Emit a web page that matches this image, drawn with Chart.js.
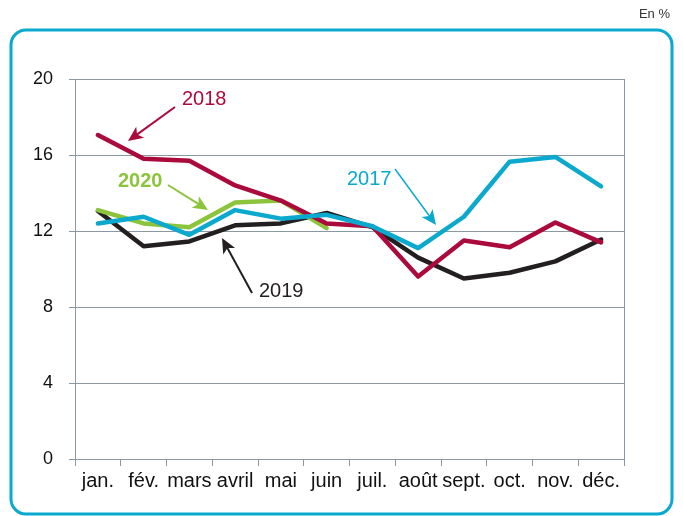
<!DOCTYPE html>
<html>
<head>
<meta charset="utf-8">
<script src="https://cdn.jsdelivr.net/npm/chart.js@4/dist/chart.umd.min.js"></script>
<style>
  html, body { margin: 0; padding: 0; background: #fff; }
  #wrap { width: 683px; height: 516px; position: relative; }
</style>
</head>
<body>
<div id="wrap"><canvas id="c" width="683" height="516"></canvas></div>
<script>
const months = ["jan.", "fév.", "mars", "avril", "mai", "juin", "juil.", "août", "sept.", "oct.", "nov.", "déc."];
const yTicks = [0, 4, 8, 12, 16, 20];

const s2017 = [12.4, 12.75, 11.8, 13.1, 12.65, 12.85, 12.25, 11.1, 12.75, 15.65, 15.9, 14.35];
const s2018 = [17.05, 15.8, 15.7, 14.4, 13.6, 12.4, 12.25, 9.6, 11.5, 11.15, 12.45, 11.4];
const s2019 = [13.05, 11.2, 11.45, 12.3, 12.4, 12.95, 12.2, 10.6, 9.5, 9.8, 10.4, 11.55];
const s2020 = [13.1, 12.4, 12.2, 13.5, 13.6, 12.15];

const C17 = "#0aa9cd", C18 = "#aa0a3c", C19 = "#231f20", C20 = "#8cc43c";
const GRID = "#8a98a3";
const FONT = "'Liberation Sans', Arial, sans-serif";

function arrow(ctx, x1, y1, x2, y2, color, lw, head) {
  const a = Math.atan2(y2 - y1, x2 - x1);
  const hl = head, hw = head * 0.45;
  const bx = x2 - hl * Math.cos(a), by = y2 - hl * Math.sin(a);
  ctx.strokeStyle = color; ctx.fillStyle = color; ctx.lineWidth = lw;
  ctx.beginPath(); ctx.moveTo(x1, y1); ctx.lineTo(bx + 0.3 * hl * Math.cos(a), by + 0.3 * hl * Math.sin(a)); ctx.stroke();
  ctx.beginPath();
  ctx.moveTo(x2, y2);
  ctx.lineTo(bx - hw * Math.sin(a), by + hw * Math.cos(a));
  ctx.lineTo(bx + 0.25 * hl * Math.cos(a), by + 0.25 * hl * Math.sin(a));
  ctx.lineTo(bx + hw * Math.sin(a), by - hw * Math.cos(a));
  ctx.closePath(); ctx.fill();
}

const decor = {
  id: "decor",
  beforeDraw(chart) {
    const ctx = chart.ctx;
    ctx.save();
    ctx.strokeStyle = C17; ctx.lineWidth = 3;
    ctx.beginPath(); ctx.roundRect(11, 30, 661, 484, 15); ctx.stroke();
    ctx.fillStyle = "#333"; ctx.font = "13px " + FONT;
    ctx.textAlign = "right"; ctx.textBaseline = "middle";
    ctx.fillText("En %", 670, 14);
    ctx.restore();
  },
  afterDraw(chart) {
    const ctx = chart.ctx, a = chart.chartArea;
    ctx.save();
    ctx.strokeStyle = GRID; ctx.lineWidth = 1;
    ctx.beginPath(); ctx.moveTo(a.right + 0.5, a.top); ctx.lineTo(a.right + 0.5, a.bottom); ctx.stroke();
    ctx.font = "20px " + FONT; ctx.textBaseline = "middle"; ctx.textAlign = "left";
    ctx.fillStyle = C18; ctx.fillText("2018", 182, 99);
    arrow(ctx, 175, 107, 128, 141, C18, 2, 15);
    ctx.font = "bold 20px " + FONT;
    ctx.fillStyle = C20; ctx.fillText("2020", 118, 181);
    arrow(ctx, 168, 185, 208, 210, C20, 2, 15);
    ctx.font = "20px " + FONT;
    ctx.fillStyle = C19; ctx.fillText("2019", 259, 291);
    arrow(ctx, 252, 293, 222, 238, C19, 2, 15);
    ctx.fillStyle = C17; ctx.fillText("2017", 347, 179);
    arrow(ctx, 395, 169, 436, 225, C17, 1.5, 15);
    ctx.restore();
  }
};

function ds(label, data, color) {
  return {
    label, data, borderColor: color, backgroundColor: color,
    borderWidth: 4.5, pointRadius: 0, tension: 0,
    borderJoinStyle: "round", borderCapStyle: "round"
  };
}

new Chart(document.getElementById("c"), {
  type: "line",
  data: {
    labels: months,
    datasets: [
      ds("2017", s2017, C17),
      ds("2018", s2018, C18),
      ds("2020", s2020, C20),
      ds("2019", s2019, C19)
    ]
  },
  options: {
    responsive: false,
    animation: false,
    devicePixelRatio: 1,
    layout: { padding: { left: 0, top: 79, right: 59, bottom: 0 } },
    plugins: { legend: { display: false }, tooltip: { enabled: false } },
    scales: {
      x: {
        offset: true,
        grid: { offset: true, drawOnChartArea: false, drawTicks: true, tickLength: 7, color: GRID },
        border: { display: true, color: GRID },
        ticks: { autoSkip: false, maxRotation: 0, color: "#111", padding: 3, font: { family: FONT, size: 20 } },
        afterFit: (s) => { s.height = 516 - 459; }
      },
      y: {
        min: 0, max: 20,
        afterBuildTicks: (s) => { s.ticks = yTicks.map((v) => ({ value: v })); },
        grid: { color: GRID, tickLength: 6 },
        border: { display: true, color: GRID },
        ticks: { color: "#111", padding: 16, font: { family: FONT, size: 18 } },
        afterFit: (s) => { s.width = 75; }
      }
    }
  },
  plugins: [decor]
});
</script>
</body>
</html>
